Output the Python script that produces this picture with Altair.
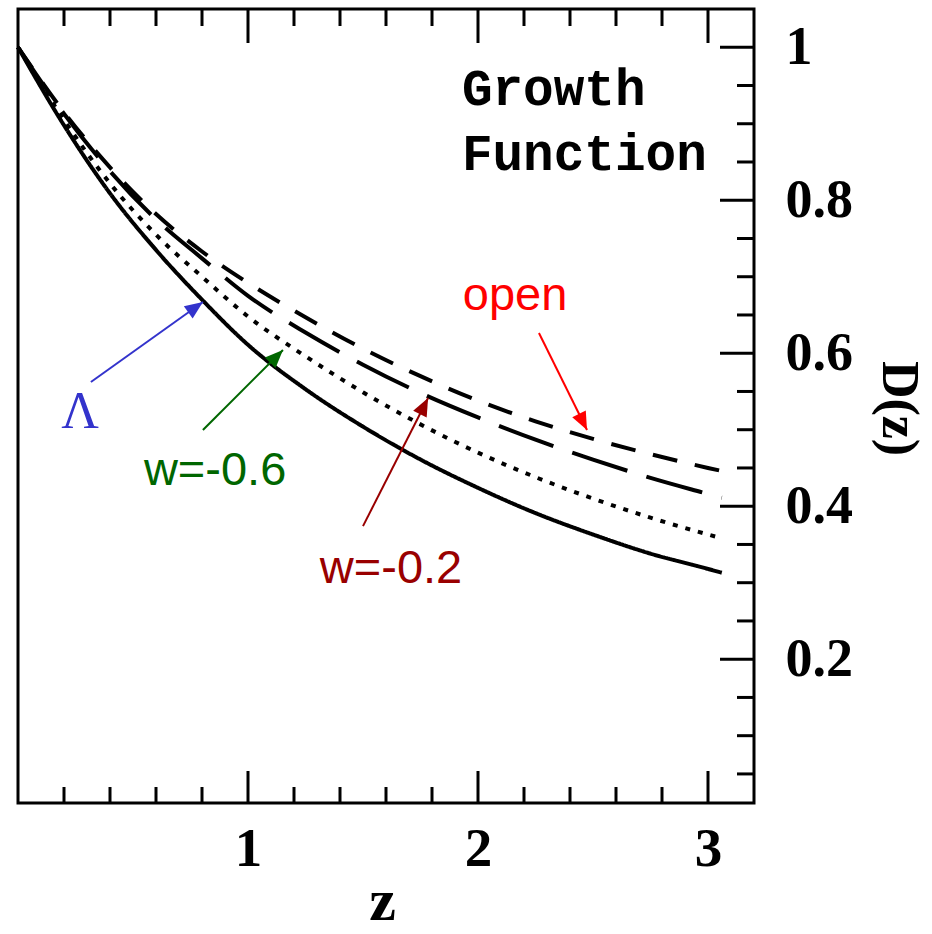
import math
import altair as alt
import pandas as pd

# ---------------- data ----------------
z_grid = [0.0, 0.2, 0.4, 0.6, 0.8, 1.0, 1.25, 1.5, 1.75, 2.0, 2.25, 2.5, 2.75, 3.0, 3.06]
d_lambda = [1.0, 0.898, 0.809, 0.735, 0.670, 0.611, 0.553, 0.504, 0.461, 0.424, 0.391, 0.363, 0.338, 0.318, 0.313]
d_w06 = [1.0, 0.905, 0.822, 0.755, 0.700, 0.648, 0.596, 0.549, 0.507, 0.470, 0.438, 0.410, 0.385, 0.363, 0.358]
d_w02 = [1.0, 0.913, 0.838, 0.775, 0.724, 0.675, 0.627, 0.585, 0.548, 0.516, 0.487, 0.461, 0.437, 0.416, 0.411]
d_open = [1.0, 0.915, 0.843, 0.782, 0.733, 0.692, 0.647, 0.606, 0.570, 0.538, 0.511, 0.488, 0.468, 0.450, 0.446]

series_names = ["Lambda", "w=-0.6", "w=-0.2", "open"]

ann_labels = ["Λ", "w=-0.6", "w=-0.2", "open"]
ann_colors = ["#3333cc", "#006600", "#990000", "#ff0000"]
label_z = [0.27, 0.857, 1.622, 2.161]
label_d = [0.502, 0.428, 0.300, 0.6565]
arrow_tail_z = [0.317, 0.804, 1.500, 2.265]
arrow_tail_d = [0.5624, 0.4996, 0.374, 0.6264]
arrow_head_z = [0.804, 1.152, 1.783, 2.474]
arrow_head_d = [0.667, 0.6042, 0.5414, 0.4996]

title_lines = ["Growth", "Function"]
title_z = [1.93, 1.93]
title_d = [0.9245, 0.8395]

x_major_ticks = [1, 2, 3]
x_minor_ticks = [0.2, 0.4, 0.6, 0.8, 1.2, 1.4, 1.6, 1.8, 2.2, 2.4, 2.6, 2.8]
y_major_ticks = [0.2, 0.4, 0.6, 0.8, 1.0]
y_minor_ticks = [0.05, 0.1, 0.15, 0.25, 0.3, 0.35, 0.45, 0.5, 0.55, 0.65, 0.7, 0.75, 0.85, 0.9, 0.95]

# ---------------- layout ----------------
W, H = 736, 794
X_DOM = [0.0, 3.2]
Y_DOM = [0.012, 1.05]
xs = alt.Scale(domain=X_DOM, nice=False, zero=False)
ys = alt.Scale(domain=Y_DOM, nice=False, zero=False)

rows = []
for name, vals in zip(series_names, [d_lambda, d_w06, d_w02, d_open]):
    for z, d in zip(z_grid, vals):
        rows.append({"model": name, "z": z, "D": d})
curves = pd.DataFrame(rows)

px_x = W / (X_DOM[1] - X_DOM[0])
px_y = H / (Y_DOM[1] - Y_DOM[0])
angles = []
for tz, td, hz, hd in zip(arrow_tail_z, arrow_tail_d, arrow_head_z, arrow_head_d):
    dx = (hz - tz) * px_x
    dy = -(hd - td) * px_y
    angles.append(math.degrees(math.atan2(dx, -dy)) % 360)

ann = pd.DataFrame({
    "label": ann_labels, "color": ann_colors,
    "lz": label_z, "ld": label_d,
    "tz": arrow_tail_z, "td": arrow_tail_d,
    "hz": arrow_head_z, "hd": arrow_head_d,
    "ang": angles,
})
titles = pd.DataFrame({"t": title_lines, "z": title_z, "d": title_d})

lines = alt.Chart(curves).mark_line(color="black", strokeWidth=4, strokeCap="butt", interpolate="monotone").encode(
    x=alt.X("z:Q", scale=xs, axis=alt.Axis(
        values=x_major_ticks, format="d", ticks=False, domain=False, grid=False,
        labelFont="Liberation Serif", labelFontWeight="bold", labelFontSize=55,
        labelColor="black", labelPadding=19,
        title="z", titleFont="Liberation Serif", titleFontWeight="bold", titleFontSize=60,
        titleColor="black", titleX=364, titleY=116, titleAlign="center", titleBaseline="alphabetic")),
    y=alt.Y("D:Q", scale=ys, axis=alt.Axis(
        orient="right", values=y_major_ticks, format=".1~f", ticks=False, domain=False, grid=False,
        labelFont="Liberation Serif", labelFontWeight="bold", labelFontSize=54,
        labelColor="black", labelPadding=31, labelAlign="left", labelBaseline="middle",
        title="D(z)", titleFont="Liberation Serif", titleFontWeight="bold", titleFontSize=52,
        titleColor="black", titleAngle=90, titleX=144, titleY=399, titleAlign="center", titleBaseline="middle")),
    strokeDash=alt.StrokeDash("model:N", scale=alt.Scale(
        domain=series_names, range=[[1, 0], [5, 8], [58, 20], [25, 18]]), legend=None),
    detail="model:N",
    order="z:Q",
)


def xticks(vals, y0, y1):
    return alt.Chart(pd.DataFrame({"v": vals})).mark_rule(color="black", strokeWidth=3).encode(
        x=alt.X("v:Q", scale=xs), y=alt.value(y0), y2=alt.value(y1))


def yticks(vals, x0, x1):
    return alt.Chart(pd.DataFrame({"v": vals})).mark_rule(color="black", strokeWidth=3).encode(
        y=alt.Y("v:Q", scale=ys), x=alt.value(x0), x2=alt.value(x1))


tick_layers = [
    xticks(x_major_ticks, H, H - 32),
    xticks(x_minor_ticks, H, H - 16),
    xticks(x_major_ticks, 0, 34),
    xticks(x_minor_ticks, 0, 17),
    yticks(y_major_ticks, W, W - 34),
    yticks(y_minor_ticks, W, W - 17),
]

arrows = alt.Chart(ann).mark_rule(strokeWidth=2).encode(
    x=alt.X("tz:Q", scale=xs), y=alt.Y("td:Q", scale=ys),
    x2="hz:Q", y2="hd:Q",
    color=alt.Color("color:N", scale=None),
)
heads = alt.Chart(ann).mark_point(shape="M0,0L-0.42,1L0.42,1Z", filled=True, size=1300, opacity=1).encode(
    x=alt.X("hz:Q", scale=xs), y=alt.Y("hd:Q", scale=ys),
    angle=alt.Angle("ang:Q", scale=None),
    fill=alt.Fill("color:N", scale=None),
)
labels_sans = alt.Chart(ann).transform_filter("datum.label != 'Λ'").mark_text(
    font="Liberation Sans", fontSize=47, align="center", baseline="alphabetic").encode(
    x=alt.X("lz:Q", scale=xs), y=alt.Y("ld:Q", scale=ys),
    text="label:N", color=alt.Color("color:N", scale=None),
)
label_lambda = alt.Chart(ann).transform_filter("datum.label == 'Λ'").mark_text(
    font="Liberation Serif", fontSize=52, align="center", baseline="alphabetic").encode(
    x=alt.X("lz:Q", scale=xs), y=alt.Y("ld:Q", scale=ys),
    text="label:N", color=alt.Color("color:N", scale=None),
)
title_text = alt.Chart(titles).mark_text(
    font="Liberation Mono", fontWeight="bold", fontSize=51, align="left", baseline="alphabetic", color="black").encode(
    x=alt.X("z:Q", scale=xs), y=alt.Y("d:Q", scale=ys), text="t:N",
)

chart = alt.layer(
    lines, *tick_layers, arrows, heads, labels_sans, label_lambda, title_text
).properties(
    width=W, height=H,
    autosize=alt.AutoSizeParams(type="none"),
    padding={"left": 18, "top": 9, "right": 178, "bottom": 131},
    background="white",
).configure_view(stroke="black", strokeWidth=3)

chart.save("out.html", embed_options={"renderer": "svg", "actions": False})
